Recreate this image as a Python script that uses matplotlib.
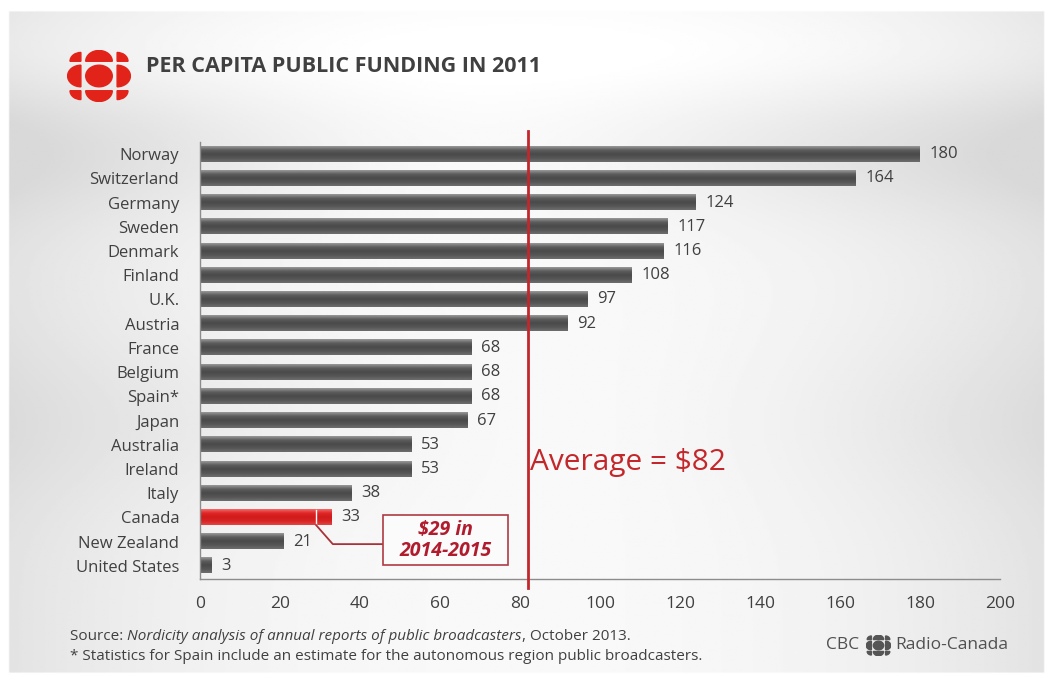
import numpy as np
import matplotlib
matplotlib.use('Agg')
import matplotlib.pyplot as plt
from matplotlib.colors import LinearSegmentedColormap
from matplotlib.patches import Circle, Wedge, Rectangle

countries = ['Norway', 'Switzerland', 'Germany', 'Sweden', 'Denmark', 'Finland',
             'U.K.', 'Austria', 'France', 'Belgium', 'Spain*', 'Japan',
             'Australia', 'Ireland', 'Italy', 'Canada', 'New Zealand',
             'United States']
funding = [180, 164, 124, 117, 116, 108, 97, 92, 68, 68, 68, 67, 53, 53, 38,
           33, 21, 3]
average = 82
canada_2015 = 29
xticks = [0, 20, 40, 60, 80, 100, 120, 140, 160, 180, 200]

W, H = 1051, 684
fig = plt.figure(figsize=(W / 100, H / 100), dpi=100)
fig.patch.set_facecolor('white')

FONT = 'Open Sans'
TXT = '#404040'
RED = '#c3272b'


def fx(px):
    return px / W


def fy(py):
    return 1 - py / H


# slide background: light grey with soft white swooshes
bg = fig.add_axes([0, 0, 1, 1], zorder=-10)
yy, xx = np.mgrid[0:1:300j, 0:1:460j]
v = 0.975 - 0.10 * np.abs(xx - 0.5) ** 2.2 * 4
v -= 0.06 * np.exp(-((yy - 0.22) / 0.10) ** 2) * (1 - np.exp(-((xx - 0.45) / 0.25) ** 2))
v += 0.03 * np.exp(-((yy - 0.08) / 0.08) ** 2)
v -= 0.035 * np.exp(-((yy - 0.62) / 0.12) ** 2) * (1 - np.exp(-((xx - 0.55) / 0.3) ** 2))
v = np.clip(v, 0.85, 1.0)
frame = (xx < 0.008) | (xx > 0.994) | (yy < 0.015) | (yy > 0.985)
v[frame] = 1.0
bg.imshow(v, cmap='gray', vmin=0, vmax=1, aspect='auto', extent=[0, 1, 1, 0])
bg.set_axis_off()

# main chart
ax = fig.add_axes([fx(200), fy(579), fx(1000) - fx(200), fy(142) - fy(579)])
ax.patch.set_alpha(0)
n = len(countries)
ypos = np.arange(n)
bar_h = 0.62

grey_cmap = LinearSegmentedColormap.from_list(
    'g', ['#9a9a9a', '#5c5c5c', '#4a4a4a', '#555555', '#6e6e6e'])
red_cmap = LinearSegmentedColormap.from_list(
    'r', ['#f36a6a', '#e02525', '#cf1b1b', '#d82323', '#e24545'])
grad = np.linspace(0, 1, 64).reshape(-1, 1)

bars = ax.barh(ypos, funding, height=bar_h, color='none', zorder=2)
for name, b, val in zip(countries, bars, funding):
    cm = red_cmap if name == 'Canada' else grey_cmap
    x0, y0 = b.get_x(), b.get_y()
    ax.imshow(grad, cmap=cm, aspect='auto', interpolation='bicubic',
              extent=[x0, x0 + b.get_width(), y0 + b.get_height(), y0],
              zorder=2)
    ax.text(val + 2.3, b.get_y() + b.get_height() / 2, str(val),
            va='center', ha='left', fontsize=12, color=TXT, family=FONT)

ci = countries.index('Canada')
ax.plot([canada_2015, canada_2015], [ci - bar_h / 2, ci + bar_h / 2],
        color='white', lw=1, zorder=3)

ax.set_xlim(0, 200)
ax.set_ylim(n - 0.46, -0.5)
ax.set_yticks(ypos)
ax.set_yticklabels(countries, family=FONT, fontsize=12, color=TXT)
ax.set_xticks(xticks)
ax.set_xticklabels([str(t) for t in xticks], family=FONT, fontsize=12.5,
                   color=TXT)
ax.tick_params(length=0, pad=15, axis='y')
ax.tick_params(length=0, pad=12, axis='x')
for s in ['top', 'right']:
    ax.spines[s].set_visible(False)
for s in ['left', 'bottom']:
    ax.spines[s].set_color('#8c8c8c')
    ax.spines[s].set_linewidth(1)

# average line
ax.axvline(average, ymin=-0.02, ymax=1.025, color=RED, lw=2, zorder=4,
           clip_on=False)
ax.text(average + 0.6, 12.75, 'Average = $82', fontsize=21.5, color=RED,
        family=FONT, va='center', ha='left')

# canada callout
ax.plot([canada_2015, 33.2, 45.8], [ci + bar_h / 2, 16.1, 16.1],
        color='#a8323a', lw=1.3, zorder=3)
ax.add_patch(Rectangle((45.8, 14.9), 31.2, 2.07, fc='#fbfbfb', ec='#b03a44',
                       lw=1.2, zorder=4))
ax.text(61.4, 15.95, '$29 in\n2014-2015', ha='center', va='center',
        fontsize=14, fontweight='bold', style='italic', color='#b01c2e',
        family=FONT, linespacing=1.05, zorder=5)

# CBC gem logo (the slide is stretched sideways, so no equal aspect)


def gem(axl, color):
    r = 0.44
    d = 0.6
    axl.add_patch(Circle((0, 0), r, color=color))
    for ang, (cx, cy) in zip([90, 0, 270, 180],
                             [(0, d), (d, 0), (0, -d), (-d, 0)]):
        axl.add_patch(Wedge((cx, cy), r, ang - 90, ang + 90, color=color))
    for ang, (cx, cy) in zip([45, 135, 225, 315],
                             [(d, d), (-d, d), (-d, -d), (d, -d)]):
        axl.add_patch(Wedge((cx, cy), 0.36, ang - 45, ang + 45, color=color))
    axl.set_xlim(-1.06, 1.06)
    axl.set_ylim(-1.06, 1.06)
    axl.set_axis_off()


lg = fig.add_axes([fx(67), fy(102), fx(131) - fx(67), 52 / H])
gem(lg, '#e2231a')

fig.text(fx(146), fy(67), 'PER CAPITA PUBLIC FUNDING IN 2011', fontsize=15.5,
         fontweight='bold', color=TXT, family=FONT, va='center')

# footer
FS = 11
t1 = fig.text(fx(70), fy(636), 'Source: ', fontsize=FS, color=TXT,
              family=FONT, va='center')
fig.canvas.draw()
r = fig.canvas.get_renderer()
bb = t1.get_window_extent(r)
t2 = fig.text(bb.x1 / W, fy(636),
              'Nordicity analysis of annual reports of public broadcasters',
              fontsize=FS, color=TXT, family=FONT, style='italic', va='center')
bb2 = t2.get_window_extent(r)
fig.text(bb2.x1 / W, fy(636), ', October 2013.', fontsize=FS, color=TXT,
         family=FONT, va='center')
fig.text(fx(70), fy(657),
         '* Statistics for Spain include an estimate for the autonomous region public broadcasters.',
         fontsize=FS, color=TXT, family=FONT, va='center')

fig.text(fx(826), fy(645), 'CBC', fontsize=12.5, color='#505050',
         family=FONT, va='center')
fig.text(fx(895), fy(645), 'Radio-Canada', fontsize=12.5, color='#505050',
         family=FONT, va='center')
lg2 = fig.add_axes([fx(866), fy(656), fx(25), 21 / H])
gem(lg2, '#555555')

fig.savefig('out.png', dpi=100, facecolor=fig.get_facecolor())
